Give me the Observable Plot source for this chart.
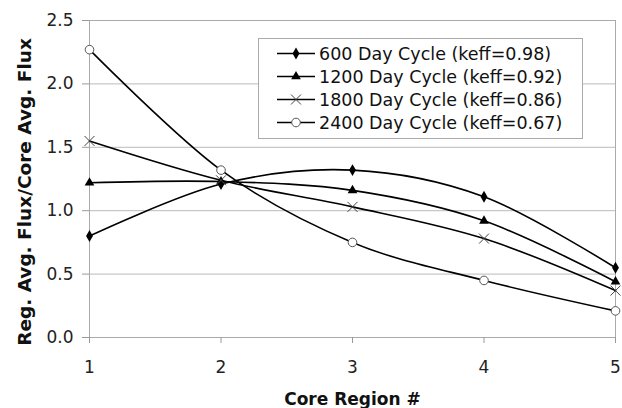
<!DOCTYPE html>
<html>
<head>
<meta charset="utf-8">
<script src="https://cdn.jsdelivr.net/npm/d3@7"></script>
<script src="https://cdn.jsdelivr.net/npm/@observablehq/plot@0.6"></script>
<style>
  html, body { margin: 0; padding: 0; background: #fff; }
  #wrap { position: relative; width: 622px; height: 408px; font-family: "DejaVu Sans", sans-serif; }
  #legend { position: absolute; left: 258px; top: 38px; width: 323px; height: 96px; border: 1px solid #aaa; background: #fff; padding-top: 3px; box-sizing: content-box; }
  .row { display: flex; align-items: center; height: 23px; padding-left: 18px; font-size: 17.5px; color: #111; white-space: nowrap; }
  .row svg { flex: none; margin-right: 2px; }
</style>
</head>
<body>
<div id="wrap"><div id="chart"></div><div id="legend"></div></div>
<script>
const regions = [1, 2, 3, 4, 5];
const cycle600 = [0.80, 1.21, 1.32, 1.11, 0.55];
const cycle1200 = [1.22, 1.23, 1.16, 0.92, 0.44];
const cycle1800 = [1.55, 1.24, 1.03, 0.78, 0.37];
const cycle2400 = [2.27, 1.32, 0.75, 0.45, 0.21];
const seriesNames = ["600 Day Cycle (keff=0.98)", "1200 Day Cycle (keff=0.92)", "1800 Day Cycle (keff=0.86)", "2400 Day Cycle (keff=0.67)"];
const yTicks = [0, 0.5, 1.0, 1.5, 2.0, 2.5];
const xLabel = "Core Region #";
const yLabel = "Reg. Avg. Flux/Core Avg. Flux";

const seriesValues = [cycle600, cycle1200, cycle1800, cycle2400];
const markers = [
  {symbol: "diamond", r: 3.6, fill: "#000", stroke: "none", sw: 0},
  {symbol: "triangle", r: 3.6, fill: "#000", stroke: "none", sw: 0},
  {symbol: "times", r: 4.6, fill: "none", stroke: "#444", sw: 1},
  {symbol: "circle", r: 4.3, fill: "#fff", stroke: "#555", sw: 1}
];
const data = seriesNames.map((name, i) => regions.map((x, j) => ({series: name, x, y: seriesValues[i][j]})));

const marks = [
  Plot.gridY(yTicks, {stroke: "#bbb", strokeOpacity: 1}),
  Plot.frame({stroke: "#aaa"}),
  Plot.axisX(regions, {tickSize: 6, tickPadding: 17, fontSize: 17, stroke: "#999", color: "#222", label: null, tickFormat: d3.format("d")}),
  Plot.axisY(yTicks, {tickSize: 7, tickPadding: 9, fontSize: 17, stroke: "#999", color: "#222", label: null, tickFormat: d3.format(".1f")}),
];
data.forEach((d, i) => {
  marks.push(Plot.line(d, {x: "x", y: "y", curve: "cardinal", tension: 0, stroke: "#000", strokeWidth: 1.6}));
});
data.forEach((d, i) => {
  const m = markers[i];
  marks.push(Plot.dot(d, {x: "x", y: "y", symbol: m.symbol, r: m.r, fill: m.fill, stroke: m.stroke, strokeWidth: m.sw}));
});
marks.push(Plot.text([xLabel], {frameAnchor: "bottom", lineAnchor: "bottom", textAnchor: "middle", dy: 67, fontSize: 17, fontWeight: "bold", fill: "#111"}));
marks.push(Plot.text([yLabel], {frameAnchor: "left", lineAnchor: "bottom", textAnchor: "middle", rotate: -90, dx: -59, dy: 13, fontSize: 18.5, fontWeight: "bold", fill: "#111"}));

const chart = Plot.plot({
  width: 622,
  height: 408,
  marginLeft: 89,
  marginRight: 7,
  marginTop: 20,
  marginBottom: 71,
  style: {fontFamily: "DejaVu Sans, sans-serif", background: "#fff"},
  x: {domain: [1, 5], axis: null, label: null},
  y: {domain: [0, 2.5], axis: null, label: null},
  marks
});
document.getElementById("chart").appendChild(chart);

// Legend
const legend = d3.select("#legend");
const symMap = {diamond: d3.symbolDiamond, triangle: d3.symbolTriangle, times: d3.symbolTimes, circle: d3.symbolCircle};
seriesNames.forEach((name, i) => {
  const m = markers[i];
  const row = legend.append("div").attr("class", "row");
  const svg = row.append("svg").attr("width", 40).attr("height", 23);
  svg.append("line").attr("x1", 0).attr("x2", 38).attr("y1", 11.5).attr("y2", 11.5).attr("stroke", "#000").attr("stroke-width", 1.6);
  svg.append("path")
    .attr("transform", "translate(19,11.5)")
    .attr("d", d3.symbol(symMap[m.symbol], Math.PI * m.r * m.r)())
    .attr("fill", m.fill).attr("stroke", m.stroke).attr("stroke-width", m.sw);
  row.append("span").text(name);
});
</script>
</body>
</html>
